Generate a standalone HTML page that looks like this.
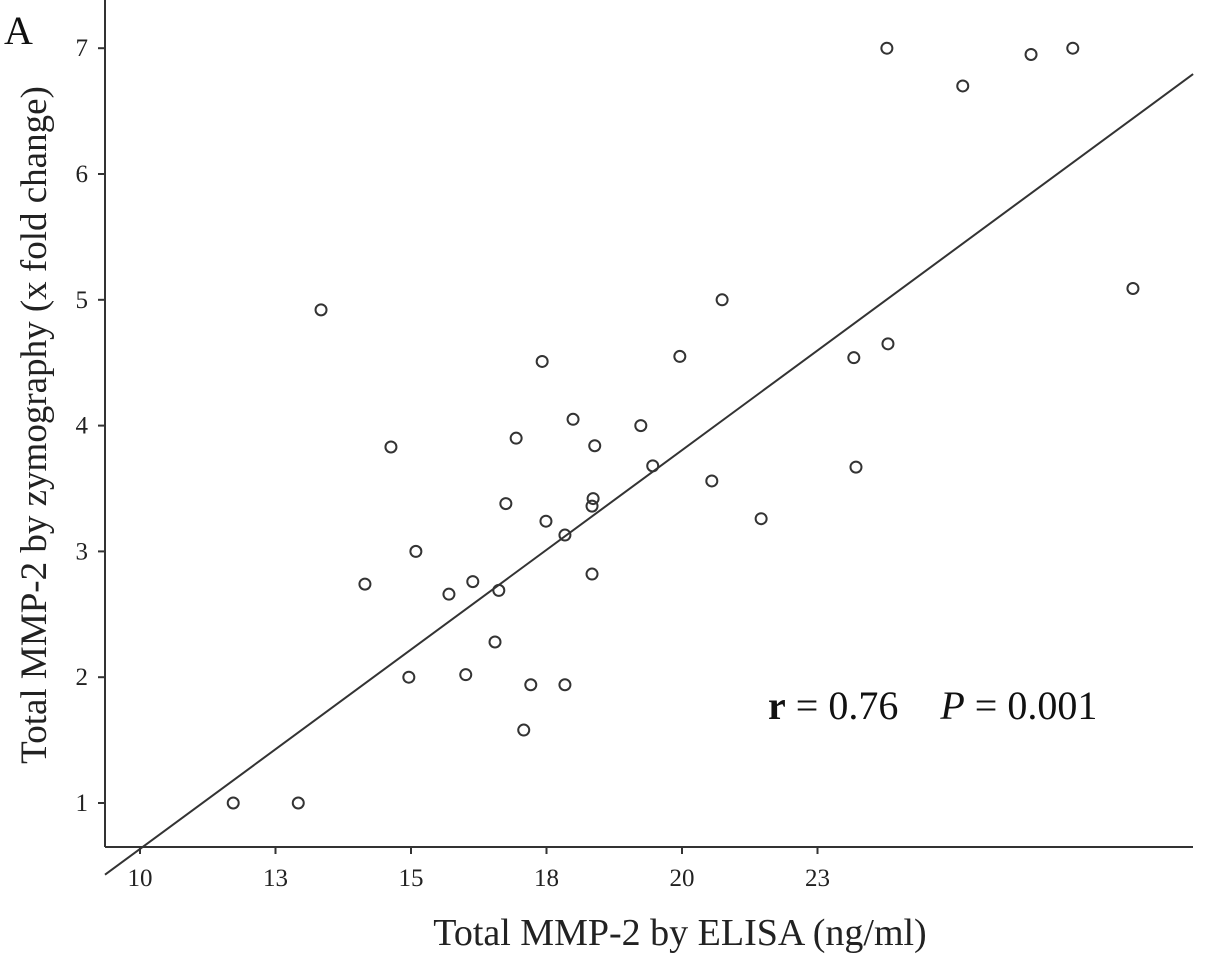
<!DOCTYPE html>
<html><head><meta charset="utf-8"><style>
html,body{margin:0;padding:0;background:#fff;}
svg{display:block;font-family:"Liberation Serif",serif;}
</style></head><body>
<svg id="chart" width="1205" height="969" viewBox="0 0 1205 969" xmlns="http://www.w3.org/2000/svg">
<text x="4" y="44" font-size="40" fill="#111">A</text>
<g id="axes"></g>
<g id="marks"></g>
<text x="680" y="945" font-size="38" text-anchor="middle" fill="#222">Total MMP-2 by ELISA (ng/ml)</text>
<text transform="translate(46,425) rotate(-90)" font-size="37" text-anchor="middle" fill="#222">Total MMP-2 by zymography (x fold change)</text>
<text x="768" y="719" font-size="40" fill="#111"><tspan font-weight="bold">r</tspan> = 0.76<tspan dx="42" font-style="italic">P</tspan> = 0.001</text>
</svg>
<script>
const xTicks = [10, 12.5, 15, 17.5, 20, 22.5];
const xTickLabels = ["10", "13", "15", "18", "20", "23"];
const yTicks = [1, 2, 3, 4, 5, 6, 7];
const yTickLabels = ["1", "2", "3", "4", "5", "6", "7"];
const xValues = [11.72,12.92,13.34,14.15,14.63,14.96,15.09,15.70,16.01,16.14,16.62,16.55,16.75,16.94,17.42,17.49,17.21,17.08,17.84,17.84,17.99,18.34,18.34,18.36,18.39,19.24,19.46,19.96,20.55,20.74,21.46,23.17,23.21,23.78,23.80,25.18,26.44,27.21,28.32];
const yValues = [1.00,1.00,4.92,2.74,3.83,2.00,3.00,2.66,2.02,2.76,2.69,2.28,3.38,3.90,4.51,3.24,1.94,1.58,3.13,1.94,4.05,2.82,3.36,3.42,3.84,4.00,3.68,4.55,3.56,5.00,3.26,4.54,3.67,7.00,4.65,6.70,6.95,7.00,5.09];
const fitLine = [0.43, 0.317];

const X0 = 140, XS = 54.2, Y0 = 803, YS = 125.8;
const xs = v => X0 + (v - 10) * XS;
const ys = v => Y0 - (v - 1) * YS;
const NS = "http://www.w3.org/2000/svg";
const axes = document.getElementById('axes');
const marks = document.getElementById('marks');
function mk(tag, attrs, parent){const e=document.createElementNS(NS,tag);for(const k in attrs)e.setAttribute(k,attrs[k]);parent.appendChild(e);return e;}

const xl = mk('line',{x1:105,y1:847,x2:1193,y2:847,stroke:'#333','stroke-width':2},axes);


const yl = mk('line',{x1:105,y1:0,x2:105,y2:847,stroke:'#333','stroke-width':2},axes);



xTicks.forEach((t,i)=>{
  const l = mk('line',{x1:xs(t),y1:847,x2:xs(t),y2:854,stroke:'#333','stroke-width':2},axes);
  
  
  const tx = mk('text',{x:xs(t),y:886,'font-size':25,'text-anchor':'middle',fill:'#222'},axes);
  tx.textContent = xTickLabels[i];
  
  
});
yTicks.forEach((t,i)=>{
  const l = mk('line',{x1:98,y1:ys(t),x2:105,y2:ys(t),stroke:'#333','stroke-width':2},axes);
  
  
  const tx = mk('text',{x:88,y:ys(t)+8,'font-size':25,'text-anchor':'end',fill:'#222'},axes);
  tx.textContent = yTickLabels[i];
  
  
});

const xa = 9.354, xb = 29.43;
const fl = mk('line',{x1:xs(xa),y1:ys(fitLine[0]),x2:xs(xb),y2:ys(fitLine[0]+fitLine[1]*(xb-xa)),stroke:'#333','stroke-width':2},marks);



xValues.forEach((v,i)=>{
  const c = mk('circle',{cx:xs(v),cy:ys(yValues[i]),r:5.5,fill:'none',stroke:'#333','stroke-width':2},marks);
  
  
});
</script>
</body></html>
